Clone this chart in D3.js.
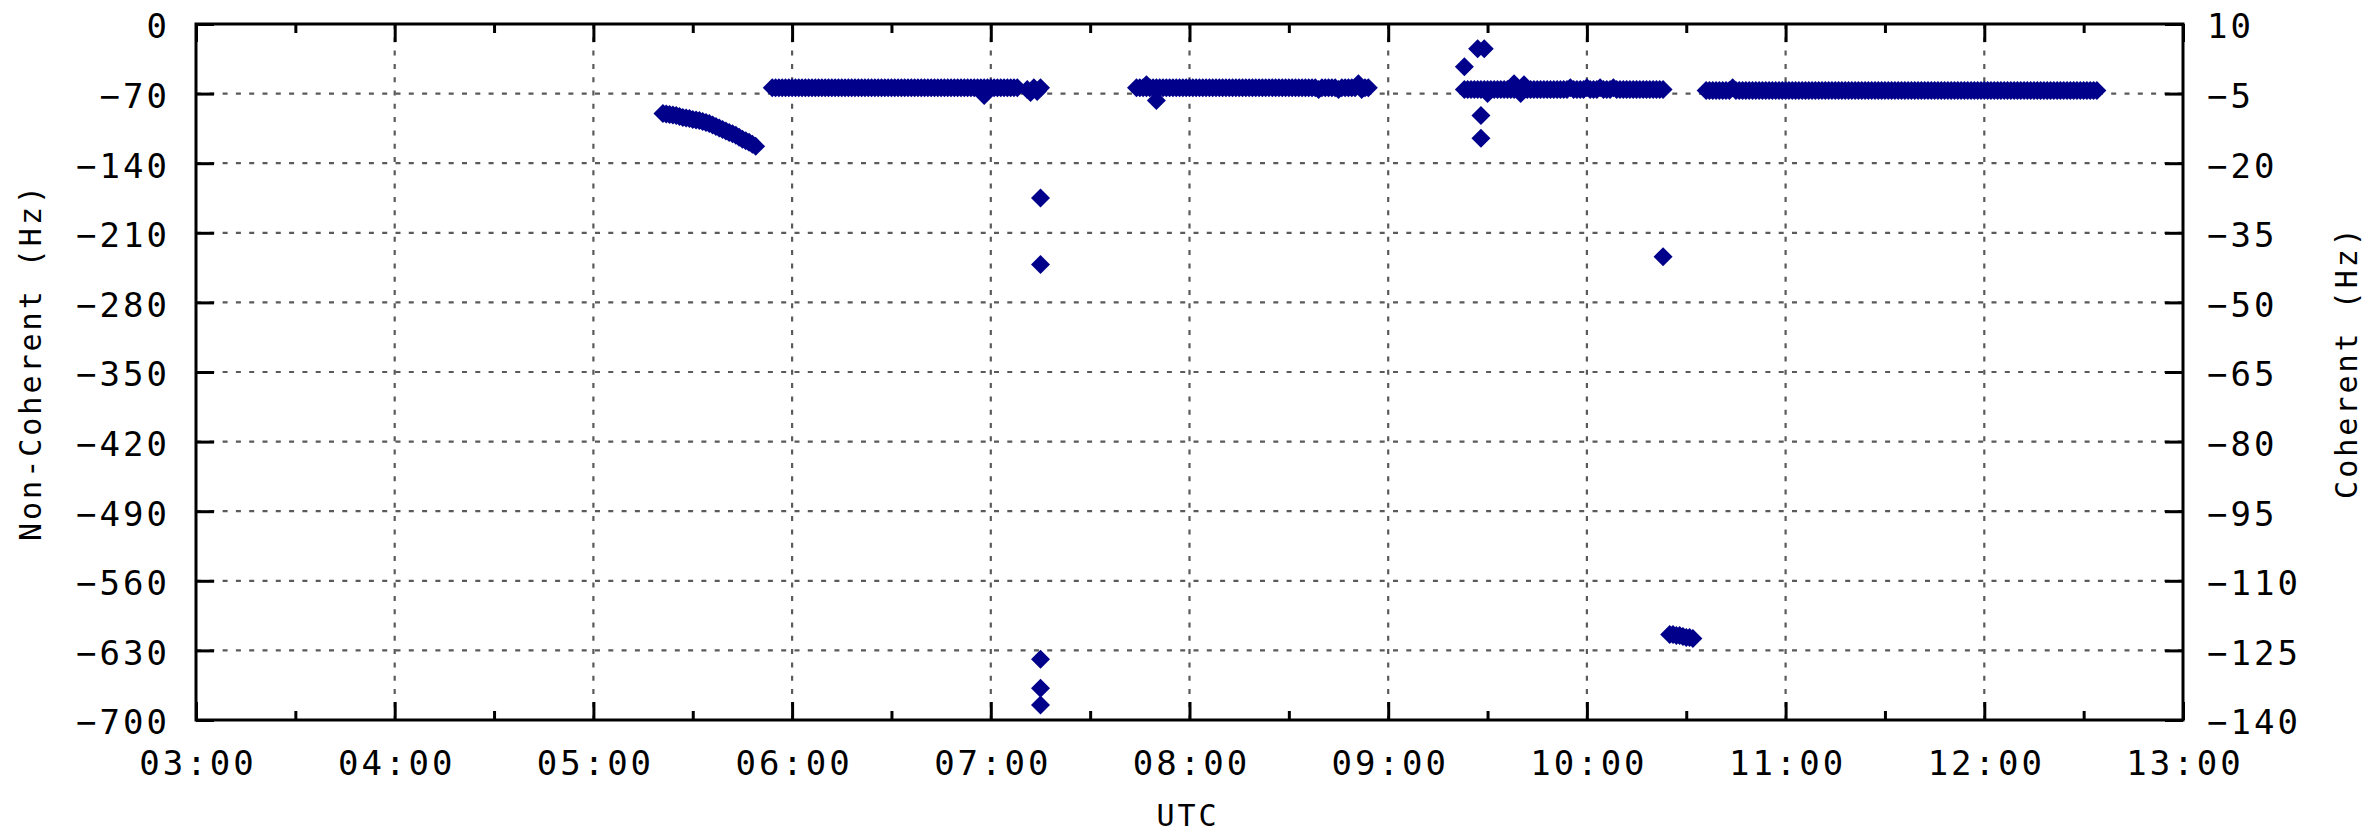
<!DOCTYPE html>
<html><head><meta charset="utf-8">
<script src="https://cdn.jsdelivr.net/npm/d3@7/dist/d3.min.js"></script>
<style>html,body{margin:0;padding:0;background:#fff;} svg{display:block;}</style>
</head><body><svg id="chart" width="2366" height="835"></svg>
<script>
// ---- tick labels / axes ----
const xTickLabels = ["03:00","04:00","05:00","06:00","07:00","08:00","09:00","10:00","11:00","12:00","13:00"];
const leftTicks  = [0,-70,-140,-210,-280,-350,-420,-490,-560,-630,-700];
const rightTicks = [10,-5,-20,-35,-50,-65,-80,-95,-110,-125,-140];
const xTitle = "UTC", leftTitle = "Non-Coherent (Hz)", rightTitle = "Coherent (Hz)";

// ---- data (time UTC, Hz on the Non-Coherent axis) ----
const segA = [["05:21",-90],["05:22",-90.5],["05:23",-91],["05:24",-91.5],["05:25",-92],["05:26",-93],["05:27",-94],["05:28",-94.5],["05:29",-95],["05:30",-96],["05:31",-96.5],["05:32",-97],["05:33",-98],["05:34",-99],["05:35",-100],["05:36",-101.5],["05:37",-103],["05:38",-104.5],["05:39",-106],["05:40",-107.5],["05:41",-109],["05:42",-110.5],["05:43",-112],["05:44",-114],["05:45",-116],["05:46",-117.5],["05:47",-119],["05:48",-121],["05:49",-123]];
const segB = [["05:54",-64],["05:55",-64],["05:56",-64],["05:57",-64],["05:58",-64],["05:59",-64],["06:00",-64],["06:01",-64],["06:02",-64],["06:03",-64],["06:04",-64],["06:05",-64],["06:06",-64],["06:07",-64],["06:08",-64],["06:09",-64],["06:10",-64],["06:11",-64],["06:12",-64],["06:13",-64],["06:14",-64],["06:15",-64],["06:16",-64],["06:17",-64],["06:18",-64],["06:19",-64],["06:20",-64],["06:21",-64],["06:22",-64],["06:23",-64],["06:24",-64],["06:25",-64],["06:26",-64],["06:27",-64],["06:28",-64],["06:29",-64],["06:30",-64],["06:31",-64],["06:32",-64],["06:33",-64],["06:34",-64],["06:35",-64],["06:36",-64],["06:37",-64],["06:38",-64],["06:39",-64],["06:40",-64],["06:41",-64],["06:42",-64],["06:43",-64],["06:44",-64],["06:45",-64],["06:46",-64],["06:47",-64],["06:48",-64],["06:49",-64],["06:50",-64],["06:51",-64],["06:52",-64],["06:53",-64],["06:54",-64],["06:55",-64],["06:56",-64],["06:57",-64],["06:58",-72],["06:58",-64],["06:59",-64],["07:00",-64],["07:01",-64],["07:02",-64],["07:03",-64],["07:04",-64],["07:05",-64],["07:06",-64],["07:07",-64],["07:08",-64],["07:11",-66],["07:12",-69],["07:13",-64],["07:14",-68],["07:15",-64]];
const segBSpikes = [["07:15",-175],["07:15",-242],["07:15",-639],["07:15",-668],["07:15",-685]];
const segC = [["07:44",-64],["07:45",-64],["07:46",-64],["07:47",-61],["07:47",-64],["07:48",-64],["07:49",-64],["07:50",-77],["07:50",-64],["07:51",-64],["07:52",-64],["07:53",-64],["07:54",-64],["07:55",-64],["07:56",-64],["07:57",-64],["07:58",-64],["07:59",-64],["08:00",-64],["08:01",-64],["08:02",-64],["08:03",-64],["08:04",-64],["08:05",-64],["08:06",-64],["08:07",-64],["08:08",-64],["08:09",-64],["08:10",-64],["08:11",-64],["08:12",-64],["08:13",-64],["08:14",-64],["08:15",-64],["08:16",-64],["08:17",-64],["08:18",-64],["08:19",-64],["08:20",-64],["08:21",-64],["08:22",-64],["08:23",-64],["08:24",-64],["08:25",-64],["08:26",-64],["08:27",-64],["08:28",-64],["08:29",-64],["08:30",-64],["08:31",-64],["08:32",-64],["08:33",-64],["08:34",-64],["08:35",-64],["08:36",-64],["08:37",-64],["08:38",-64],["08:39",-66],["08:40",-64],["08:41",-64],["08:42",-64],["08:43",-64],["08:44",-64],["08:45",-66],["08:46",-64],["08:47",-64],["08:48",-64],["08:49",-64],["08:50",-64],["08:51",-60],["08:52",-66],["08:53",-64],["08:54",-64]];
const segD = [["09:23",-66],["09:24",-66],["09:25",-66],["09:26",-66],["09:27",-66],["09:28",-66],["09:29",-66],["09:30",-70],["09:30",-66],["09:31",-66],["09:32",-66],["09:33",-66],["09:34",-66],["09:35",-66],["09:36",-66],["09:37",-66],["09:38",-60],["09:38",-66],["09:39",-66],["09:40",-70],["09:41",-61],["09:41",-66],["09:42",-66],["09:43",-66],["09:44",-66],["09:45",-66],["09:46",-66],["09:47",-66],["09:48",-66],["09:49",-66],["09:50",-66],["09:51",-66],["09:52",-66],["09:53",-66],["09:54",-66],["09:55",-64],["09:56",-66],["09:57",-66],["09:58",-66],["09:59",-66],["10:00",-64],["10:01",-66],["10:02",-66],["10:03",-66],["10:04",-64],["10:05",-66],["10:06",-66],["10:07",-66],["10:08",-64],["10:09",-66],["10:10",-66],["10:11",-66],["10:12",-66],["10:13",-66],["10:14",-66],["10:15",-66],["10:16",-66],["10:17",-66],["10:18",-66],["10:19",-66],["10:20",-66],["10:21",-66],["10:22",-66],["10:23",-66]];
const segDOutliers = [["09:23",-43],["09:27",-25],["09:29",-25],["09:28",-92],["09:28",-115],["10:23",-234]];
const segG = [["10:25",-614],["10:26",-614],["10:27",-615],["10:28",-615],["10:29",-616],["10:30",-617],["10:31",-617],["10:32",-618]];
const segF = [["10:36",-67],["10:37",-67],["10:38",-67],["10:39",-67],["10:40",-67],["10:41",-67],["10:42",-67],["10:43",-67],["10:44",-64],["10:45",-67],["10:46",-67],["10:47",-67],["10:48",-67],["10:49",-67],["10:50",-67],["10:51",-67],["10:52",-67],["10:53",-67],["10:54",-67],["10:55",-67],["10:56",-67],["10:57",-67],["10:58",-67],["10:59",-67],["11:00",-67],["11:01",-67],["11:02",-67],["11:03",-67],["11:04",-67],["11:05",-67],["11:06",-67],["11:07",-67],["11:08",-67],["11:09",-67],["11:10",-67],["11:11",-67],["11:12",-67],["11:13",-67],["11:14",-67],["11:15",-67],["11:16",-67],["11:17",-67],["11:18",-67],["11:19",-67],["11:20",-67],["11:21",-67],["11:22",-67],["11:23",-67],["11:24",-67],["11:25",-67],["11:26",-67],["11:27",-67],["11:28",-67],["11:29",-67],["11:30",-67],["11:31",-67],["11:32",-67],["11:33",-67],["11:34",-67],["11:35",-67],["11:36",-67],["11:37",-67],["11:38",-67],["11:39",-67],["11:40",-67],["11:41",-67],["11:42",-67],["11:43",-67],["11:44",-67],["11:45",-67],["11:46",-67],["11:47",-67],["11:48",-67],["11:49",-67],["11:50",-67],["11:51",-67],["11:52",-67],["11:53",-67],["11:54",-67],["11:55",-67],["11:56",-67],["11:57",-67],["11:58",-67],["11:59",-67],["12:00",-67],["12:01",-67],["12:02",-67],["12:03",-67],["12:04",-67],["12:05",-67],["12:06",-67],["12:07",-67],["12:08",-67],["12:09",-67],["12:10",-67],["12:11",-67],["12:12",-67],["12:13",-67],["12:14",-67],["12:15",-67],["12:16",-67],["12:17",-67],["12:18",-67],["12:19",-67],["12:20",-67],["12:21",-67],["12:22",-67],["12:23",-67],["12:24",-67],["12:25",-67],["12:26",-67],["12:27",-67],["12:28",-67],["12:29",-67],["12:30",-67],["12:31",-67],["12:32",-67],["12:33",-67],["12:34",-67]];

const markerColor = "#00008b";
const FONT = "'DejaVu Sans Mono', monospace";

const parseT = d3.utcParse("%H:%M");
const svg = d3.select("#chart");
const L = 196, R = 2183, T = 24, B = 720;

const x = d3.scaleUtc().domain([parseT(xTickLabels[0]), parseT(xTickLabels[xTickLabels.length-1])]).range([L, R]);
const yL = d3.scaleLinear().domain([leftTicks[0], leftTicks[leftTicks.length-1]]).range([T, B]);
const yR = d3.scaleLinear().domain([rightTicks[0], rightTicks[rightTicks.length-1]]).range([T, B]);

const hourTicks = xTickLabels.map(parseT);
const halfTicks = d3.utcMinute.every(30).range(x.domain()[0], x.domain()[1]).filter(d => d.getUTCMinutes() === 30);

// grid
const grid = svg.append("g").attr("stroke", "#5a5a5a").attr("stroke-width", 2.2).attr("stroke-dasharray", "5,8.3");
grid.selectAll("line.h").data(leftTicks.slice(1, -1)).join("line")
  .attr("x1", L).attr("x2", R).attr("y1", d => yL(d)).attr("y2", d => yL(d));
grid.selectAll("line.v").data(hourTicks.slice(1, -1)).join("line")
  .attr("y1", T).attr("y2", B).attr("x1", d => x(d)).attr("x2", d => x(d));

// axes
function styleAxis(g) {
  g.select(".domain").remove();
  g.selectAll(".tick line").attr("stroke", "#000").attr("stroke-width", 3);
  g.selectAll("text").attr("fill", "#000").style("font-family", FONT).style("font-size", "34px").style("letter-spacing", "3px");
}
const fmt = d3.utcFormat("%H:%M");
svg.append("g").attr("transform", `translate(0,${B})`)
  .call(d3.axisBottom(x).tickValues(hourTicks).tickFormat(fmt).tickSizeInner(-18).tickSizeOuter(0).tickPadding(0))
  .call(styleAxis)
  .call(g => g.selectAll("text").attr("y", 55).attr("dy", 0).attr("dx", "1.5"));
svg.append("g").attr("transform", `translate(0,${B})`)
  .call(d3.axisBottom(x).tickValues(halfTicks).tickFormat("").tickSizeInner(-9).tickSizeOuter(0))
  .call(styleAxis);
svg.append("g").attr("transform", `translate(0,${T})`)
  .call(d3.axisTop(x).tickValues(hourTicks).tickFormat("").tickSizeInner(-18).tickSizeOuter(0))
  .call(styleAxis);
svg.append("g").attr("transform", `translate(0,${T})`)
  .call(d3.axisTop(x).tickValues(halfTicks).tickFormat("").tickSizeInner(-9).tickSizeOuter(0))
  .call(styleAxis);
svg.append("g").attr("transform", `translate(${L},0)`)
  .call(d3.axisLeft(yL).tickValues(leftTicks).tickFormat(d => d3.format("d")(d).replace("-", "\u2212")).tickSizeInner(-18).tickSizeOuter(0).tickPadding(26))
  .call(styleAxis)
  .call(g => g.selectAll("text").attr("dy", "0.41em"));
svg.append("g").attr("transform", `translate(${R},0)`)
  .call(d3.axisRight(yR).tickValues(rightTicks).tickFormat(d => d3.format("d")(d).replace("-", "\u2212")).tickSizeInner(-18).tickSizeOuter(0).tickPadding(24))
  .call(styleAxis)
  .call(g => g.selectAll("text").attr("dy", "0.41em"));

// frame
svg.append("rect").attr("x", L).attr("y", T).attr("width", R - L).attr("height", B - T)
  .attr("fill", "none").attr("stroke", "#000").attr("stroke-width", 3);

// titles
const titleStyle = s => s.attr("fill", "#000").style("font-family", FONT).style("font-size", "30px").style("letter-spacing", "3px");
svg.append("text").text(xTitle).attr("x", 1188).attr("y", 826).attr("text-anchor", "middle").call(titleStyle);
svg.append("text").text(leftTitle).attr("transform", "translate(41,362) rotate(-90)").attr("text-anchor", "middle").call(titleStyle);
svg.append("text").text(rightTitle).attr("transform", "translate(2357,362) rotate(-90)").attr("text-anchor", "middle").call(titleStyle);

// markers
const r = 9.5;
const diamond = `M0,${-r}L${r},0L0,${r}L${-r},0Z`;
const allPoints = [segA, segB, segBSpikes, segC, segD, segDOutliers, segG, segF].flat();
svg.append("g").selectAll("path").data(allPoints).join("path")
  .attr("d", diamond)
  .attr("transform", d => `translate(${x(parseT(d[0]))},${yL(d[1])})`)
  .attr("fill", markerColor);
</script>
</body></html>
